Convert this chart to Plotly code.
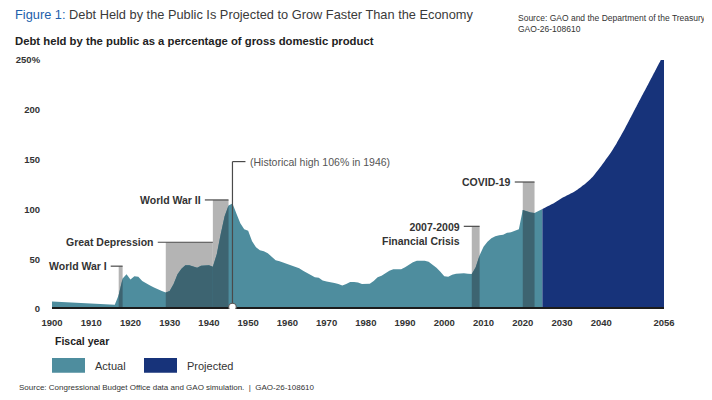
import plotly.graph_objects as go

# ---------------- data ----------------
actual_years = list(range(1900, 2026))
actual_values = [
    7.5, 7.3, 7.0, 6.8, 6.6, 6.4, 6.2, 6.0, 5.8, 5.6,          # 1900-1909
    5.4, 5.2, 5.0, 4.8, 4.6, 4.4, 4.2, 14.0, 30.5, 35.0,       # 1910-1919
    29.5, 33.0, 32.5, 28.0, 25.5, 23.5, 21.5, 19.5, 18.0, 16.5,# 1920-1929
    18.0, 25.0, 35.0, 40.5, 44.0, 44.0, 42.5, 41.5, 43.5, 43.5,# 1930-1939
    44.0, 42.5, 55.0, 75.0, 93.0, 104.0, 106.0, 96.0, 86.0, 80.0,  # 1940-1949
    78.5, 68.0, 62.0, 59.0, 58.0, 56.0, 52.0, 49.0, 48.0, 46.5,# 1950-1959
    45.0, 43.8, 42.5, 41.0, 38.5, 36.5, 34.0, 32.0, 31.5, 28.5,# 1960-1969
    27.5, 27.0, 26.0, 25.0, 23.5, 25.0, 27.0, 27.0, 26.5, 25.0,# 1970-1979
    25.5, 25.3, 28.0, 32.0, 33.5, 36.0, 38.5, 40.0, 40.0, 40.0,# 1980-1989
    42.0, 44.5, 47.0, 48.5, 48.5, 48.5, 47.5, 44.5, 41.5, 37.5,# 1990-1999
    33.0, 32.5, 34.5, 35.5, 36.0, 35.8, 35.4, 35.2, 42.0, 54.0,# 2000-2009
    62.5, 67.5, 71.0, 73.0, 74.0, 74.5, 76.5, 77.0, 78.5, 80.0,# 2010-2019
    99.5, 98.0, 97.0, 96.5, 98.8, 100.5                         # 2020-2025
]

projected_years = list(range(2025, 2057))
projected_values = [
    100.5, 102.5, 104.5, 106.5, 109.0, 111.5, 113.5, 115.5, 117.5, 120.0,  # 2025-2034
    123.0, 126.0, 129.5, 133.5, 138.5, 143.5, 149.0, 154.5, 160.5, 167.0,  # 2035-2044
    174.0, 181.0, 188.5, 196.0, 203.5, 211.0, 218.5, 226.0, 233.5, 241.0,  # 2045-2054
    248.5, 256.0                                                            # 2055-2056
]

event_labels = ["World War I", "Great Depression", "World War II",
                "2007-2009<br>Financial Crisis", "COVID-19"]
event_starts = [1917, 1929, 1941, 2007, 2020]
event_ends = [1918, 1941, 1945, 2009, 2023]
event_tops = [43, 67, 109.5, 83, 127.5]

high_year = 1946
high_label = "(Historical high 106% in 1946)"
high_top = 148

x_tickvals = [1900, 1910, 1920, 1930, 1940, 1950, 1960, 1970, 1980, 1990,
              2000, 2010, 2020, 2030, 2040, 2056]
x_ticktext = [str(v) for v in x_tickvals]
y_tickvals = [0, 50, 100, 150, 200, 250]
y_ticktext = ["0", "50", "100", "150", "200", "250%"]

# ---------------- style ----------------
OFF = 8                      # page body margin of the browser
W, H = 712 - OFF, 400 - OFF
L = 52 - OFF                 # plot left edge in figure px
PR = 664 - OFF               # plot right edge in figure px
PT = 59.5 - OFF              # y = 250 line
PB = 309 - OFF               # y = 0 line
R = W - PR
T = PT
B = H - PB
PW = PR - L
PH = PB - PT
X0, X1 = 1900, 2056
PX_PER_YEAR = PW / (X1 - X0)

TEAL = "#4e8d9e"
NAVY = "#17337a"
GREY = "#b4b4b4"
DARK = "#3d6471"
LINE = "#4a4a4a"
TXT = "#333333"
SANS = "Liberation Sans, Arial, sans-serif"


def pxX(x):
    """reference-image pixel -> paper x"""
    return (x - OFF - L) / PW


def pxY(y):
    """reference-image pixel -> paper y"""
    return (PB - (y - OFF)) / PH


fig = go.Figure()

fig.add_trace(go.Scatter(x=actual_years, y=actual_values, mode="lines",
                         line=dict(width=0, color=TEAL), fill="tozeroy",
                         fillcolor=TEAL, hoverinfo="skip", showlegend=False))
fig.add_trace(go.Scatter(x=projected_years, y=projected_values, mode="lines",
                         line=dict(width=0, color=NAVY, shape="spline", smoothing=0.6),
                         fill="tozeroy", fillcolor=NAVY, hoverinfo="skip",
                         showlegend=False))

shapes = []
annotations = []

for lab, s, e, top in zip(event_labels, event_starts, event_ends, event_tops):
    shapes.append(dict(type="rect", xref="x", yref="y", x0=s, x1=e, y0=0, y1=top,
                       fillcolor=GREY, line=dict(width=0), layer="below"))
    xs = [y for y in actual_years if s <= y <= e]
    ys = [actual_values[actual_years.index(y)] for y in xs]
    fig.add_trace(go.Scatter(x=xs, y=ys, mode="lines", line=dict(width=0, color=DARK),
                             fill="tozeroy", fillcolor=DARK, hoverinfo="skip",
                             showlegend=False))
    shapes.append(dict(type="line", xref="x", yref="y",
                       x0=s - 8 / PX_PER_YEAR, x1=e, y0=top, y1=top,
                       line=dict(color=LINE, width=1.2)))
    two = "<br>" in lab
    annotations.append(dict(xref="x", yref="y", x=s - 10 / PX_PER_YEAR, y=top,
                            text="<b>" + lab.replace("<br>", "</b><br><b>") + "</b>",
                            showarrow=False, xanchor="right",
                            yanchor="top" if two else "middle",
                            yshift=7 if two else 0, align="right",
                            font=dict(family=SANS, size=10.5, color=TXT)))

# historical high marker
shapes.append(dict(type="line", xref="x", yref="y", x0=high_year, x1=high_year,
                   y0=0, y1=high_top, line=dict(color=LINE, width=1.2)))
shapes.append(dict(type="line", xref="x", yref="y", x0=high_year,
                   x1=high_year + 13 / PX_PER_YEAR, y0=high_top, y1=high_top,
                   line=dict(color=LINE, width=1.2)))
annotations.append(dict(xref="x", yref="y", x=high_year + 16 / PX_PER_YEAR, y=high_top,
                        text=high_label, showarrow=False, xanchor="left",
                        yanchor="middle",
                        font=dict(family=SANS, size=10.5, color="#555555")))

# black baseline
shapes.append(dict(type="rect", xref="x", yref="y", ysizemode="pixel", yanchor=0,
                   x0=X0, x1=X1, y0=-2, y1=2, fillcolor="#1c1c1c",
                   line=dict(width=0), layer="above"))

# white dot at the historical high year, on top of the baseline
shapes.append(dict(type="circle", xref="x", yref="y",
                   xsizemode="pixel", ysizemode="pixel", xanchor=high_year, yanchor=0,
                   x0=-3.8, x1=3.8, y0=-1.8, y1=5.8, fillcolor="white",
                   line=dict(color="#555555", width=1.1), layer="above"))


def text(x, y, s, size, color=TXT, anchor="left"):
    annotations.append(dict(xref="paper", yref="paper", x=pxX(x), y=pxY(y),
                            xanchor=anchor, yanchor="middle", showarrow=False,
                            text=s, font=dict(family=SANS, size=size, color=color)))


text(13, 14, "<span style='color:#2160ab'>Figure 1:</span> Debt Held by the Public Is Projected to Grow Faster Than the Economy",
     12.8, "#3a3a3a")
text(516, 17, "Source: GAO and the Department of the Treasury.", 8.5)
text(516, 28, "GAO-26-108610", 8.5)
text(13, 40, "<b>Debt held by the public as a percentage of gross domestic product</b>",
     11.3, "#222222")
text(53, 341, "<b>Fiscal year</b>", 10.5, "#222222")

for x0, col, name in [(52, TEAL, "Actual"), (144, NAVY, "Projected")]:
    shapes.append(dict(type="rect", xref="paper", yref="paper",
                       x0=pxX(x0), x1=pxX(x0 + 33), y0=pxY(373), y1=pxY(358),
                       fillcolor=col, line=dict(width=0)))
    text(x0 + 41, 366, name, 11)

text(17, 388, "Source: Congressional Budget Office data and GAO simulation.  |  GAO-26-108610", 8)

fig.update_layout(
    width=W, height=H,
    margin=dict(l=L, r=R, t=T, b=B, pad=0, autoexpand=False),
    paper_bgcolor="white", plot_bgcolor="white",
    shapes=shapes, annotations=annotations,
    showlegend=False,
    xaxis=dict(range=[X0, X1], tickvals=x_tickvals, ticktext=x_ticktext,
               showgrid=False, zeroline=False, showline=False, automargin=False,
               ticks="outside", ticklen=5, tickcolor="rgba(0,0,0,0)",
               tickfont=dict(family=SANS, size=9.5, color=TXT, weight="bold"),
               fixedrange=True),
    yaxis=dict(range=[0, 250], tickvals=y_tickvals, ticktext=y_ticktext,
               showgrid=False, zeroline=False, showline=False, automargin=False,
               ticks="outside", ticklen=9, tickcolor="rgba(0,0,0,0)",
               tickfont=dict(family=SANS, size=9.5, color=TXT, weight="bold"),
               fixedrange=True),
)

fig.write_html("out.html")
